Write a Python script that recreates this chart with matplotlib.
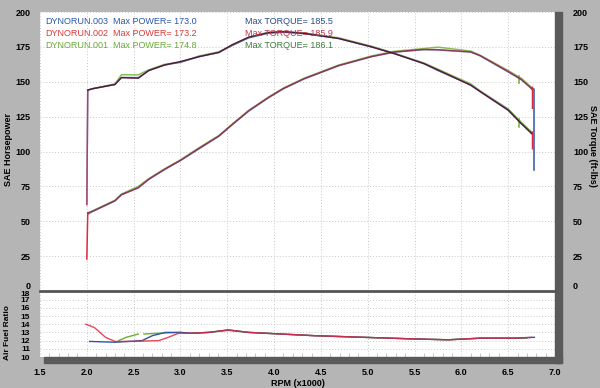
import numpy as np
import matplotlib
matplotlib.use("Agg")
from matplotlib import pyplot as plt
from matplotlib.patches import Rectangle
from matplotlib.lines import Line2D

plt.rcParams['font.family'] = ['Liberation Sans', 'DejaVu Sans']

# ---- data ----
rpm = [2.01, 2.06, 2.3, 2.37, 2.55, 2.66, 2.83, 3.0, 3.2, 3.41, 3.55, 3.73, 3.94,
       4.1, 4.32, 4.69, 5.04, 5.28, 5.6, 5.75, 6.1, 6.2, 6.5, 6.64, 6.75]

tq_003 = [144, 145, 148, 153, 153, 158, 162, 164, 168, 171, 176, 181.5, 184.8,
          185.5, 184.5, 181, 175, 170.4, 163, 158, 147.7, 143, 130, 120, 113]
tq_002 = [144, 145, 148, 153, 152.5, 158, 162, 164.5, 168, 171, 176.5, 182, 185.2,
          185.9, 184.7, 181, 175, 170.2, 163, 158.5, 147.5, 143, 129.5, 120, 113]
tq_001 = [144, 145, 148.5, 155, 155, 158.5, 162.5, 164, 168.5, 171.5, 176, 182, 185.5,
          186.1, 185, 181.5, 175.5, 170.5, 163.5, 159, 148.5, 143.5, 130.5, 121, 114]

hp_003 = [55, 57, 64.5, 69, 74, 80, 87, 93.5, 102, 111, 119, 129, 138.5,
          145, 152, 161.5, 168, 171.2, 173.0, 172.8, 171.3, 168.6, 157, 151.5, 145]
hp_002 = [56, 57, 64.8, 69, 74, 80, 87.3, 93.7, 102.4, 111, 119.3, 129.3, 138.8,
          145.2, 152.2, 161.6, 168, 171.3, 173.2, 173, 171.4, 168.8, 157.5, 151.7, 145.2]
hp_001 = [56, 57.5, 65, 69.5, 75, 80.5, 87.5, 94, 102.8, 111.5, 119.5, 129.5, 139,
          145.5, 152.5, 162, 168.5, 171.8, 173.8, 174.8, 172, 169, 158, 152.5, 146]

# start-of-pull and end-of-pull verticals
start_rpm = [2.0, 2.01]
start_tq = [62, 144]
start_hp = [23, 56]
end_blue_rpm = [6.75, 6.78, 6.78]
end_blue_val = [145, 145, 87]
end_red_rpm = [6.75, 6.76, 6.76]
end_red_hp = [145.2, 146, 131]
end_red_tq = [113, 114, 102]
spike_green_rpm = [6.62, 6.62]
spike_green_hp = [154, 149]
spike_green_tq = [123, 117.5]

# air / fuel ratio
afr_rpm_002 = [1.99, 2.08, 2.2, 2.3, 2.48, 2.77, 2.87, 2.98, 3.12, 3.3, 3.51, 3.73,
               4.08, 4.43, 4.96, 5.5, 5.86, 6.21, 6.57, 6.75]
afr_002 = [14.0, 13.6, 12.4, 11.9, 11.9, 12.0, 12.4, 12.9, 12.9, 13.0, 13.3, 13.0,
           12.8, 12.6, 12.4, 12.2, 12.1, 12.3, 12.3, 12.4]
afr_rpm_003 = [2.03, 2.3, 2.59, 2.7, 2.84, 3.0, 3.12, 3.3, 3.51, 3.73, 4.08, 4.43,
               4.96, 5.5, 5.86, 6.21, 6.57, 6.78]
afr_003 = [11.9, 11.8, 12.0, 12.6, 13.0, 13.0, 12.9, 13.0, 13.3, 13.0, 12.8, 12.6,
           12.4, 12.2, 12.1, 12.3, 12.3, 12.4]
afr_rpm_001 = [2.34, 2.42, 2.55, 2.58, 2.61, 2.77, 3.0, 3.12, 3.3, 3.51, 3.73, 4.08,
               4.43, 4.96, 5.5, 5.86, 6.21, 6.57, 6.7]
afr_001 = [12.0, 12.4, 12.8, np.nan, 12.8, 12.9, 13.0, 12.9, 13.0, 13.25, 13.0, 12.8,
           12.6, 12.4, 12.2, 12.1, 12.3, 12.3, 12.3]

runs = ["DYNORUN.003", "DYNORUN.002", "DYNORUN.001"]
max_power = ["173.0", "173.2", "174.8"]
max_torque = ["185.5", "185.9", "186.1"]

BLUE = "#2c55a8"
RED = "#e0283c"
GREEN = "#6cb030"
text_cols = ["#2c55a8", "#d83a3a", "#6aa83a"]
tq_text_cols = ["#2a4a8a", "#c8304a", "#3f7a3a"]

W, H = 600, 388
fig = plt.figure(figsize=(6, 3.88), dpi=100, facecolor="#b5b5b5")

def fx(px):
    return px / W

def fy(py):
    return 1 - py / H

L, R, T, MID, B = 40, 555, 12, 291, 357

# shadow bands
fig.patches.append(Rectangle((fx(R), fy(B + 6)), fx(7), fy(T) - fy(B + 6),
                             transform=fig.transFigure, color="#5a5a5a", zorder=0))
fig.patches.append(Rectangle((fx(L + 4), fy(B + 6)), fx(R - L + 3), 6 / H,
                             transform=fig.transFigure, color="#5a5a5a", zorder=0))

ax = fig.add_axes([fx(L), fy(MID), fx(R - L), fy(T) - fy(MID)])
ax2 = fig.add_axes([fx(L), fy(B), fx(R - L), fy(MID) - fy(B)])

tick_font = dict(fontsize=6.5, fontweight="bold")
lab_font = dict(fontsize=6.5, fontweight="bold")

for a in (ax, ax2):
    a.set_facecolor("white")
    for s in a.spines.values():
        s.set_visible(False)
    a.set_xlim(1.5, 7.0)
    a.set_xticks(np.arange(1.5, 7.01, 0.5))
    a.grid(True, color="#c8c8c8", linestyle=(0, (1, 2)), linewidth=0.7)
    a.set_axisbelow(True)
    a.tick_params(length=0)

# ---- top panel ----
ax.set_ylim(0, 200)
ax.set_yticks(np.arange(0, 201, 25))
ax.set_yticklabels([str(v) for v in range(0, 201, 25)], **tick_font)
ax.get_yticklabels()[0].set_va("bottom")
ax.tick_params(axis="y", pad=7)
ax.tick_params(axis="x", labelbottom=False)

axr = ax.twinx()
axr.set_ylim(0, 200)
axr.set_yticks(np.arange(0, 201, 25))
axr.set_yticklabels([str(v) for v in range(0, 201, 25)], **tick_font)
axr.get_yticklabels()[0].set_va("bottom")
axr.tick_params(length=0, pad=13)
for s in axr.spines.values():
    s.set_visible(False)

fig.text(fx(9), fy(150), "SAE Horsepower", rotation=90, ha="center", va="center",
         **lab_font)
fig.text(fx(592), fy(146), "SAE Torque (ft-lbs)", rotation=-90, ha="center",
         va="center", **lab_font)
fig.text(fx(8), fy(333), "Air Fuel Ratio", rotation=90, ha="center", va="center",
         fontsize=6, fontweight="bold")

lw = 1.1
al = 0.8
ax.plot(rpm, tq_001, color=GREEN, lw=lw, alpha=al)
ax.plot(rpm, hp_001, color=GREEN, lw=lw, alpha=al)
ax.plot(spike_green_rpm, spike_green_hp, color=GREEN, lw=lw)
ax.plot(spike_green_rpm, spike_green_tq, color=GREEN, lw=lw)
ax.plot(start_rpm, start_tq, color=BLUE, lw=lw, alpha=al)
ax.plot(rpm, tq_003, color=BLUE, lw=lw, alpha=al)
ax.plot(rpm, hp_003, color=BLUE, lw=lw, alpha=al)
ax.plot(end_blue_rpm, end_blue_val, color=BLUE, lw=lw)
ax.plot(start_rpm, start_tq, color=RED, lw=lw, alpha=0.6)
ax.plot(start_rpm, start_hp, color=RED, lw=lw)
ax.plot(rpm, tq_002, color=RED, lw=lw, alpha=0.6)
ax.plot(rpm, hp_002, color=RED, lw=lw, alpha=0.6)
ax.plot(end_red_rpm, end_red_hp, color=RED, lw=lw)
ax.plot(end_red_rpm, end_red_tq, color=RED, lw=lw)
# dark overlap line, as the three runs print on top of each other
ax.plot(rpm, tq_002, color="#1e1430", lw=0.8, alpha=0.8)
ax.plot(rpm, hp_002, color="#3a1a2a", lw=0.5, alpha=0.4)

for i in range(3):
    yy = fy(22 + 12 * i)
    fig.text(fx(45), yy, runs[i], color=text_cols[i], fontsize=6.5, va="center")
    fig.text(fx(113), yy, "Max POWER= " + max_power[i], color=text_cols[i],
             fontsize=6.5, va="center")
    fig.text(fx(245), yy, "Max TORQUE= " + max_torque[i], color=tq_text_cols[i],
             fontsize=6.5, va="center")

# ---- air fuel panel ----
ax2.set_ylim(10, 18.05)
ax2.set_yticks(np.arange(10, 19, 1))
ax2.set_yticklabels([str(v) for v in range(10, 19)], fontsize=6, fontweight="bold")
ax2.get_yticklabels()[-1].set_va("top")
ax2.tick_params(axis="y", pad=7)
ax2.set_xticklabels(["%.1f" % v for v in np.arange(1.5, 7.01, 0.5)], **tick_font)
ax2.tick_params(axis="x", pad=8)
ax2.set_xticks(np.arange(1.5, 7.0, 0.1), minor=True)
ax2.tick_params(axis="x", which="minor", direction="in", length=3, color="#bbbbbb",
                bottom=True)
ax2.set_xlabel("RPM (x1000)", fontsize=6.5, fontweight="bold", labelpad=1)

ax2.plot(afr_rpm_001, afr_001, color=GREEN, lw=1.0)
ax2.plot(afr_rpm_003, afr_003, color=BLUE, lw=1.0)
ax2.plot(afr_rpm_002, afr_002, color=RED, lw=1.0, alpha=0.85)

# panel divider
fig.lines.append(Line2D([fx(L), fx(R)], [fy(MID), fy(MID)], transform=fig.transFigure,
                        color="#555555", lw=2))

fig.savefig("out.png", dpi=100, facecolor=fig.get_facecolor())
plt.close(fig)
